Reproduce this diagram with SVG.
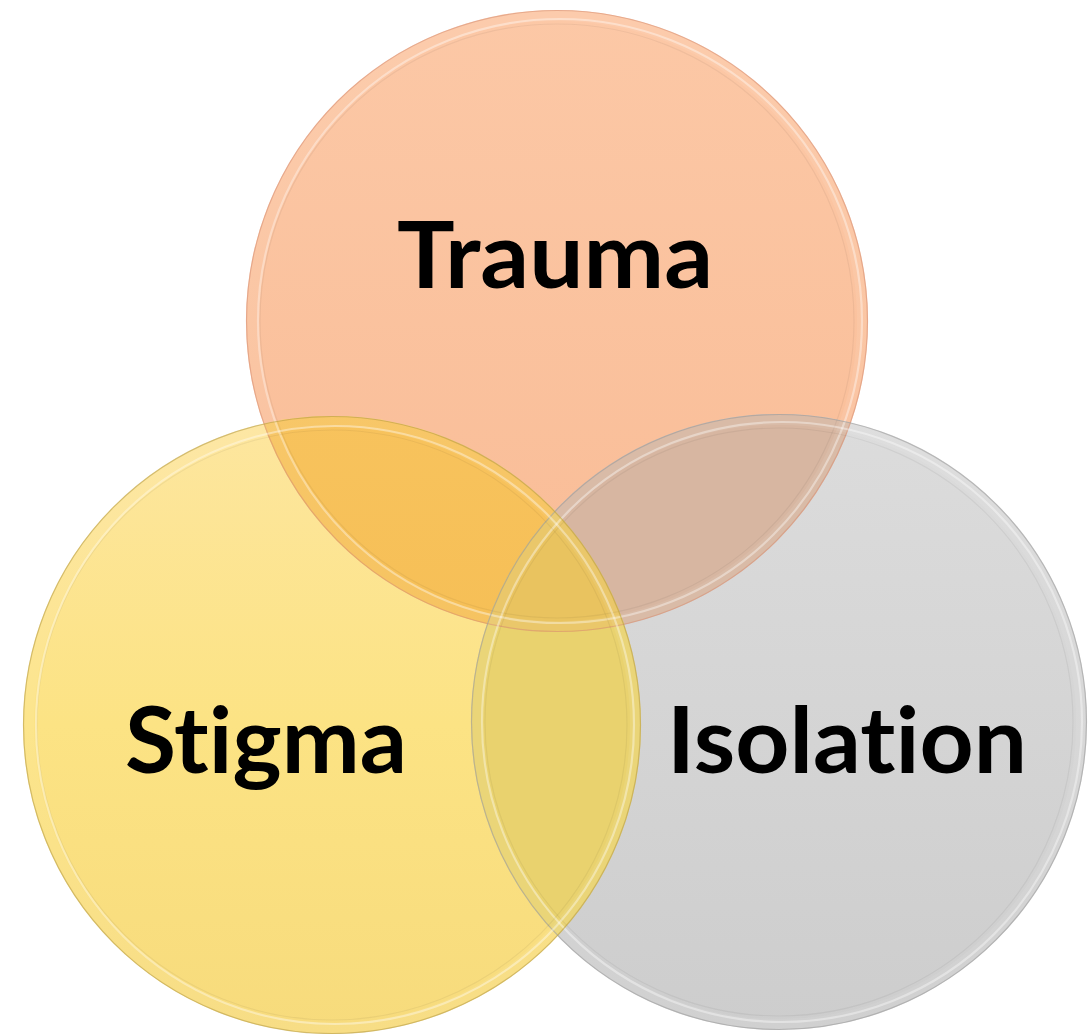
<svg xmlns="http://www.w3.org/2000/svg" xmlns:xlink="http://www.w3.org/1999/xlink" width="1089" height="1034" viewBox="0 0 1089 1034">
  <style>
    .label { font-family: Lato, "Open Sans", "Liberation Sans", sans-serif; font-weight: 700; font-size: 92px; fill: #000000; font-variant-ligatures: none; font-feature-settings: "liga" 0, "clig" 0; }
    .edge { fill: none; stroke-width: 1.2; opacity: 0.6; }
    .band { fill: none; stroke: #ffffff; stroke-width: 10; opacity: 0.07; }
    .shine { fill: none; stroke: #ffffff; stroke-width: 2.2; opacity: 0.38; }
    .inner { fill: none; stroke: #000000; stroke-width: 1.2; opacity: 0.05; }
  </style>
  <defs>
    <linearGradient id="gTrauma" x1="0" y1="0" x2="0" y2="1">
      <stop offset="0" stop-color="#FCC8A6"/>
      <stop offset="1" stop-color="#F9BC96"/>
    </linearGradient>
    <linearGradient id="gStigma" x1="0" y1="0" x2="0" y2="1">
      <stop offset="0" stop-color="#FDE69F"/>
      <stop offset="0.5" stop-color="#FCE384"/>
      <stop offset="1" stop-color="#F7DB7C"/>
    </linearGradient>
    <linearGradient id="gIsolation" x1="0" y1="0" x2="0" y2="1">
      <stop offset="0" stop-color="#DCDCDC"/>
      <stop offset="1" stop-color="#CDCDCD"/>
    </linearGradient>
    <linearGradient id="gTS" x1="0" y1="0" x2="0" y2="1">
      <stop offset="0" stop-color="#FACA6A"/>
      <stop offset="1" stop-color="#F6BF56"/>
    </linearGradient>
    <clipPath id="clipTrauma"><circle cx="557" cy="321" r="311"/></clipPath>
    <clipPath id="clipStigma"><circle cx="332" cy="725" r="309"/></clipPath>
    <clipPath id="clipIsolation"><circle cx="779" cy="722" r="308"/></clipPath>

    <!-- bevelled rims, reused on top of every fill -->
    <g id="rimTrauma">
      <circle class="band" cx="557" cy="321" r="305"/>
      <circle class="inner" cx="557" cy="321" r="297"/>
      <circle class="shine" cx="560" cy="321" r="302"/>
      <circle class="edge" cx="557" cy="321" r="310.5" stroke="#D8957A"/>
    </g>
    <g id="rimStigma">
      <circle class="band" cx="332" cy="725" r="303"/>
      <circle class="inner" cx="332" cy="725" r="295"/>
      <circle class="shine" cx="335" cy="725" r="299" stroke="#FFFBC8"/>
      <circle class="edge" cx="332" cy="725" r="308.5" stroke="#B9A04F"/>
    </g>
    <g id="rimIsolation">
      <circle class="band" cx="779" cy="722" r="302"/>
      <circle class="inner" cx="779" cy="722" r="294"/>
      <circle class="shine" cx="782" cy="722" r="300"/>
      <circle class="edge" cx="779" cy="722" r="307.5" stroke="#9E9E9E"/>
    </g>
  </defs>

  <rect width="1089" height="1034" fill="#FFFFFF"/>

  <g id="node-trauma">
    <circle cx="557" cy="321" r="311" fill="url(#gTrauma)"/>
    <text class="label" x="397" y="288" textLength="316" lengthAdjust="spacingAndGlyphs">Trauma</text>
  </g>

  <g id="node-stigma">
    <circle cx="332" cy="725" r="309" fill="url(#gStigma)"/>
    <text class="label" x="125" y="773" textLength="282" lengthAdjust="spacingAndGlyphs">Stigma</text>
  </g>

  <g id="node-isolation">
    <circle cx="779" cy="722" r="308" fill="url(#gIsolation)"/>
    <text class="label" x="667" y="773" textLength="360" lengthAdjust="spacingAndGlyphs">Isolation</text>
  </g>

  <!-- shared areas of the three sets -->
  <g id="overlaps">
    <circle cx="557" cy="321" r="311" fill="url(#gTS)" clip-path="url(#clipStigma)"/>
    <circle cx="557" cy="321" r="311" fill="#D7B6A1" clip-path="url(#clipIsolation)"/>
    <circle cx="332" cy="725" r="309" fill="#E9D26E" clip-path="url(#clipIsolation)"/>
    <g clip-path="url(#clipIsolation)">
      <circle cx="557" cy="321" r="311" fill="#E9C35F" clip-path="url(#clipStigma)"/>
    </g>
  </g>

  <g id="rims">
    <use xlink:href="#rimTrauma"/>
    <use xlink:href="#rimIsolation"/>
    <use xlink:href="#rimStigma"/>
  </g>
</svg>
